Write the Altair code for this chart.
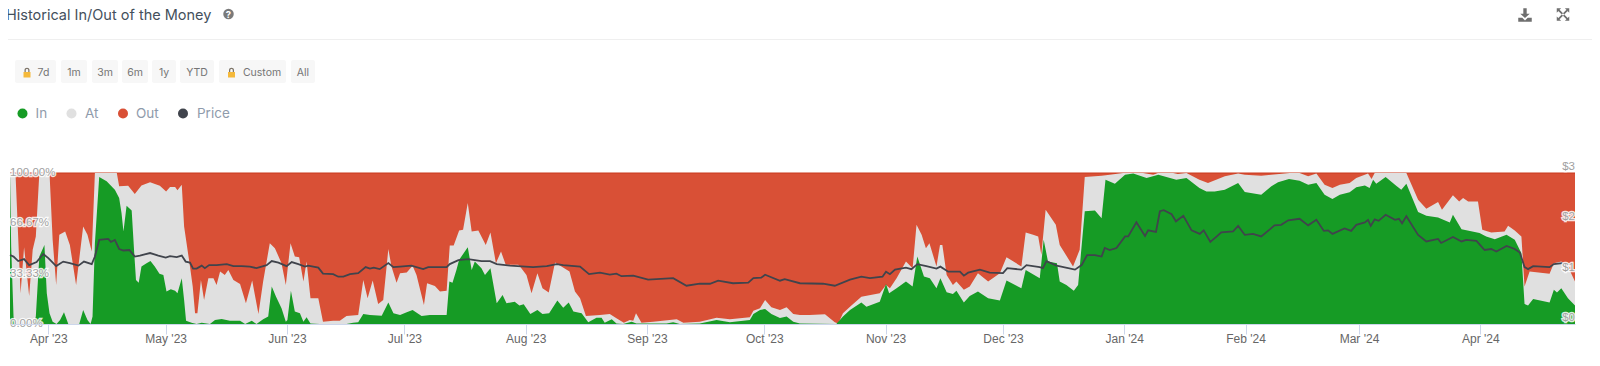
import altair as alt
import pandas as pd

START = pd.Timestamp("2023-03-22T05:00:00")
END = pd.Timestamp("2024-04-25T05:00:00")

in_days = [0,0.3,0.9,1.3,6,6.6,7.5,8.8,9.4,10.1,10.9,11.9,12.8,13.8,14.9,17.7,18.7,19.8,20.6,21.1,21.7,22.8,24.7,26.8,27.9,28.5,29,29.8,31.1,31.7,32.2,32.9,33.6,34.9,35.9,37,38.2,39.2,40,41.1,42.2,42.8,43.9,44.5,45,46.4,47.7,49,51.1,52.4,54.1,56.2,58.8,60.1,61.8,63,64.7,66,66.9,68,69.4,70.5,70.9,71.8,72.8,74.1,75,75.8,76.8,79.2,86,87.7,89,90.3,92,95,96.7,98,99.7,
 101.4,102.9,105.2,107.3,111.6,112.3,113.1,114.1,114.8,117,118,118.8,120.5,121.4,122.8,124.4,125.9,126.9,129,130.2,131.3,133,134.8,136.1,137.8,139.9,141.4,142.8,144,146.1,147.8,149.9,151.2,152,153.8,155,156.7,158.9,160.1,167.8,169.5,171.2,176.3,180.6,184,189.1,190,191.7,193,194.6,196.8,198.5,200.2,201.9,
 211.2,212.9,214.7,217.6,218.9,222.3,223.9,224.7,226.6,229,230.7,231.9,233.6,235.1,236.8,237.8,239.4,241,241.9,243.8,245.3,247.4,250,253,254.7,258.5,259.6,263.2,264.2,265.3,267.6,268.3,270,271.9,273,274.7,277.3,279,280,282.4,285,287.1,290.5,293.5,298.1,300.7,304,
 305.8,307.9,310.5,313.9,315.6,319.8,322.4,324.1,326.9,329.6,331.8,333.9,336,338,339.9,342.4,344.1,346.3,347.5,348.4,349.2,351.6,354.3,355.6,356.9,359.9,362,365,368,368.8,371,375.6,377.3,379.5,382.5,384.6,386.3,387.1,388,389.3,393.5,394.6,395.4,396.5,398.2,400]
in_pct = [100,51.3,4.9,0,0,4.9,44.7,52.4,20.4,7.1,1.5,0,2.7,7.7,0,0,9.3,2.7,0,4.9,53.5,97.3,94.5,88.9,83.4,73.5,61.3,78.3,75.2,49.1,29.2,27.4,38.1,40.3,41.8,38.1,33.2,32.5,21.5,23,22.1,20.4,30.3,15.9,2.2,0.9,0,0.9,0,2.7,3.3,2.2,2.2,0,2.2,0,3.1,4.9,24.8,18.1,10.4,1.5,2.7,22.1,8.2,7.1,1.5,4.4,0.4,0,0,0.9,1.1,6.6,6,5.5,14.2,7.1,6,
 7.7,9.3,5.3,6,6,28.1,27.4,35.8,42.5,50.9,35.8,41.4,36.9,32.5,36.9,13.7,19.2,13.7,14.8,12.2,13.1,6.6,9.3,6.6,7.1,15.5,10.8,14.2,8.2,7.1,1.1,4.2,4.2,0.9,3.1,0.4,0,1.5,0.4,0.4,1.1,0,0.4,2.7,1.1,2.7,6.6,9.3,10,6.6,4,4.9,1.5,0.4,
 0,4.9,9.3,14.2,11.5,14.8,26.5,20.4,23.7,28.1,24.8,44.7,31.4,30.3,23.7,30.3,21,19.9,22.1,14.2,18.6,21.5,17,15.5,28.8,23.7,35.8,30.3,55.8,41.4,40.3,28.1,25.9,22.1,25.9,74.6,75.2,70.1,95.6,92.9,98.9,99.6,96.7,98.9,95.6,96.7,90,
 87.8,87.8,88.9,93.4,87.4,85.6,91.2,93.8,96,94.9,92.3,93.4,85.6,82.7,85.6,87.2,90.5,91.8,90,95.6,92.9,97.3,91.6,88.9,92.9,74.1,71.7,70.6,67.3,72.3,62.8,60.2,58,56.2,59.1,55.8,46.9,13.3,12.2,16.6,14.2,22.6,20.8,23.7,17,12.2]

top_days = [0,1.4,2.7,3.6,4.9,5.8,6.6,7.5,10.1,10.9,11.8,12.6,14.1,15.3,16.9,18.7,19.8,20.9,21.7,27.3,27.9,30.2,31.9,33.6,35.8,38.3,39.9,40.9,42.2,42.8,43.9,44.5,46,46.7,47.3,47.9,48.8,49.6,50.7,52,52.8,53.7,54.9,55.8,57.1,58.8,60.3,61.9,63.5,64.7,66.4,67.7,69.4,70.5,71.7,72.8,73.9,75,75.8,76.8,78.8,80,82.6,84.3,86,89,90.3,91.4,92.7,94.1,95.4,96.7,97.5,98.8,99.7,
 101.4,102.9,103.9,105.8,106.6,108.6,109.9,111.6,112.4,113.4,114.8,115.8,117,118,119.7,121.6,122.8,124.2,125.5,126.7,129.9,130.5,132,133.3,134.8,136.1,137.7,139.3,143,144.4,145.7,147.2,150.8,153.3,155,156.9,158.4,159.3,160,161.4,164.4,170.4,172.1,176.3,180.6,184,189.1,190,191.7,193,194.6,196.8,198.5,200.2,201.9,
 204.4,208.3,210.8,211.7,212.9,214.7,217.6,222.3,223.9,224.9,226.6,229,230.7,231.7,233,234.1,235,236.8,237.7,238.3,239.4,241,241.9,243.8,245.3,247.4,250,253,254.7,258.5,259.6,261.5,262.8,263.6,264.7,267.3,268.3,271.7,273.4,274.7,279,281.1,284.5,289.6,292.2,293.4,297.3,298.5,300.7,304,
 306.2,310.5,313.9,315.6,319.8,322.4,327.1,329.6,331.8,333.9,336,338,339.9,342.4,344.1,347.1,348,348.8,356.9,359.9,362,365,366,368.8,370.4,371.4,372.7,375.2,376.3,378.6,382,382.9,384.6,386.3,387.1,388.4,393.5,394.6,396.5,398.2,400]
top_pct = [100,100,20.4,50.9,18.6,49.1,58,100,100,55.8,25.9,59.1,61.3,52.4,25.9,64.6,59.1,48,100,100,91.2,91.6,86.1,91.8,93.8,91.6,87.8,90.7,90.7,88.5,92.3,64.6,38.1,24.8,7.1,7.1,29.2,15.9,30.3,30.3,25.9,34.7,32.5,35.8,29.2,26.5,13.7,28.8,6.6,28.1,53.5,50.2,40.3,25.9,53.5,44.7,44.2,28.1,41.4,17,17,1.5,2.2,2.2,5.3,6,29.2,17,28.8,13.3,15.9,49.6,38.1,27.4,33.6,
 34.1,38.5,32.5,12.6,27,25.2,21.5,22.1,52,52,61.9,62.4,80.1,61.3,61.9,52.4,60.6,40.3,48,39.2,39.2,37.6,32.5,20.4,33.6,23.7,20.8,40.7,34.7,21.5,17,5.3,6,6.6,3.8,0.9,2.7,2.2,7.1,0.9,1.5,3.1,0.9,1.5,4.2,3.1,4.4,8.8,10.4,15.9,11.1,9.3,11.1,6.6,6,
 6,6.4,1.1,0.4,7.1,11.5,18.1,20.4,25.9,23.7,30.3,41.4,36.9,65.7,59.1,50.2,53.5,38.1,52.4,52.4,32.5,25.9,28.1,22.6,24.8,33.6,28.1,33.6,44.2,38.1,60.6,59.1,58,45.8,75.7,65.7,52.4,38.1,49.1,97.3,98.2,98.9,100,100,98.9,100,100,99.3,100,95.6,
 93.4,97.8,99.6,98.9,98.2,98.9,100,100,97.8,99.6,92.3,90,92.3,93.4,96.7,99.6,96,100,100,82.3,76.3,80.8,75.7,85.2,81.2,83.4,81.2,81.2,62.4,60.6,61.3,65,61.9,58,24.8,34.7,33.2,40.3,41.4,38.1,28.1]

price_days = [0,0.9,2.1,3.6,4.9,6.8,8.5,9.8,11.8,13.6,15.3,17.5,18.9,20.9,21.7,22.8,25.1,25.8,26.8,27.9,29,30.5,31.9,33.2,35.8,37.9,39.8,40.9,42.6,43.9,44.9,46,46.8,47.7,49,49.8,50.9,52.8,55.4,57.1,59.2,61.3,63,65.6,66.9,68.6,70.7,72,73.7,75.4,76.2,78.8,80,82.6,83.9,85.2,86.9,89,90.9,92,93,94.5,96.7,98,99.7,
 102.6,105.6,106.9,111.6,112.4,114.6,117.1,118.8,120.5,122.7,124.4,127.8,133.7,137.2,139.7,141.4,145.7,148,150.8,153.3,155,156.3,159.3,163.1,169.5,172.9,176.3,178.9,181,184.8,188.7,190,192,193,196.8,198,201.9,
 207.8,210.8,214.7,217.6,219.8,223,223.9,224.9,226.2,229,230.4,231.9,234.2,236.8,237.8,239.8,242.8,243.8,244.9,247.9,250.4,253.8,254.9,258.5,259.8,263.2,264,264.9,267.5,272.2,273.9,275.3,277.3,279,279.8,281.1,282.8,285,285.8,287.9,290.1,290.9,292.9,293.9,294.9,296.9,298,299.9,302,304.1,
 305.1,306.8,308.3,309.6,312.6,313.9,315.6,317.7,319.8,322,323.2,324.9,326.7,329.6,331.8,333.9,335.8,336.9,338,341.1,342.8,344.1,346.3,347.1,347.8,348.8,349.8,351.6,354,355,355.8,356.9,359.9,362,365,365.8,368.8,371,372.2,374.8,376.9,378.6,379.9,382.5,384.6,385.9,387.1,388,389.3,393.5,394.6,396.8]
price_usd = [1.37,1.34,1.25,1.29,1.17,1.23,1.39,1.31,1.15,1.24,1.21,1.16,1.24,1.19,1.34,1.67,1.69,1.63,1.67,1.49,1.46,1.47,1.34,1.36,1.41,1.36,1.32,1.35,1.33,1.36,1.24,1.22,1.10,1.10,1.16,1.11,1.17,1.17,1.19,1.15,1.15,1.14,1.11,1.17,1.25,1.22,1.15,1.23,1.19,1.14,1.16,1.12,1.00,0.99,0.94,0.94,0.99,1.01,1.13,1.10,1.12,1.09,1.21,1.13,1.14,
 1.16,1.09,1.13,1.13,1.19,1.27,1.29,1.27,1.25,1.25,1.19,1.16,1.13,1.15,1.19,1.17,1.14,0.99,1.02,0.98,1.00,0.95,0.96,0.88,0.91,0.76,0.80,0.80,0.86,0.81,0.82,0.91,0.92,0.98,0.86,0.89,0.81,
 0.80,0.76,0.88,0.94,0.91,0.94,1.04,0.99,1.08,1.12,1.09,1.19,1.15,1.10,1.14,1.04,1.04,0.96,1.02,1.08,1.02,1.01,1.11,1.08,1.17,1.13,1.11,1.25,1.16,1.08,1.17,1.37,1.37,1.34,1.51,1.47,1.51,1.74,1.74,2.02,1.75,1.86,1.83,2.24,2.26,2.18,2.04,2.15,1.86,1.79,
 1.86,1.63,1.73,1.82,1.84,1.95,1.77,1.79,1.74,1.88,1.96,1.97,2.06,2.09,1.96,2.07,1.85,1.86,1.79,1.90,1.85,1.97,2.02,2.07,1.95,2.08,2.05,2.17,2.07,2.09,2.00,2.14,1.77,1.64,1.69,1.61,1.73,1.64,1.67,1.65,1.47,1.49,1.44,1.55,1.49,1.42,1.13,1.09,1.15,1.13,1.19,1.21]

pct_ticks = [100, 66.67, 33.33, 0]
pct_labels = ["100.00%", "66.67%", "33.33%", "0.00%"]
usd_ticks = [3, 2, 1, 0]
usd_labels = ["$3", "$2", "$1", "$0"]

buttons = ["7d", "1m", "3m", "6m", "1y", "YTD", "Custom", "All"]
legend_names = ["In", "At", "Out", "Price"]
legend_colors = ["#169b25", "#e0e0e0", "#d95036", "#40444c"]

# page-pixel layout of the header furniture
PLOT_X, PLOT_Y, PLOT_W, PLOT_H = 10, 173, 1565, 151
button_boxes = [(15,56),(61,87),(92,118),(122,148),(152,176),(180,214),(219,286),(291,315)]
button_text_x = [43.5,74,105,135,164,197,262,303]
locks_x = [27, 231.5]
legend_dot_x = [22.5,71.5,123,183]
legend_text_x = [35.5,85,136,197]


def px(v):
    return alt.value(v - PLOT_X)


def py(v):
    return alt.value(v - PLOT_Y)


def frame(days, values):
    return pd.DataFrame({"date": [START + pd.Timedelta(days=float(d)) for d in days], "v": values})


x_scale = alt.Scale(domain=[START.isoformat(), END.isoformat()], nice=False)
pct_scale = alt.Scale(domain=[0, 100], nice=False, zero=False)
usd_scale = alt.Scale(domain=[0, 3], nice=False, zero=False)
X = alt.X("date:T", scale=x_scale, axis=None, title=None)

red = alt.Chart(frame([0, 400], [100, 100])).mark_area(
    color="#d95036", opacity=1, line={"color": "#c9391d", "strokeWidth": 1}
).encode(x=X, y=alt.Y("v:Q", scale=pct_scale, axis=None, stack=None))
gray = alt.Chart(frame(top_days, top_pct)).mark_area(color="#e0e0e0", opacity=1).encode(
    x=X, y=alt.Y("v:Q", scale=pct_scale, axis=None, stack=None))
green = alt.Chart(frame(in_days, in_pct)).mark_area(color="#169b25", opacity=1).encode(
    x=X, y=alt.Y("v:Q", scale=pct_scale, axis=None, stack=None))
price = alt.Chart(frame(price_days, price_usd)).mark_line(color="#40444c", strokeWidth=1.8).encode(
    x=X, y=alt.Y("v:Q", scale=usd_scale, axis=None))

axis_layer = alt.Chart(frame([0, 400], [0, 0])).mark_line(opacity=0).encode(
    x=alt.X("date:T", scale=x_scale, title=None, axis=alt.Axis(
        format="%b '%y", tickCount={"interval": "month", "step": 1}, grid=False,
        domainColor="#ccd6eb", tickColor="#ccd6eb", tickSize=10, labelColor="#666666",
        labelFont="Liberation Sans", labelFontSize=12, labelPadding=-1,
        labelOverlap=False, labelFlush=False, zindex=1)),
    y=alt.Y("v:Q", scale=pct_scale, axis=None))

pct_df = pd.DataFrame({"v": pct_ticks, "t": pct_labels})
usd_df = pd.DataFrame({"v": usd_ticks, "t": usd_labels})
tick_text = dict(font="Liberation Sans", fontSize=11.5, baseline="middle")
axis_text = []
for kw in (dict(stroke="#ffffff", strokeWidth=2.5, strokeOpacity=0.85, fill="#ffffff"), dict(fill="#a0a0a0")):
    axis_text.append(alt.Chart(pct_df).mark_text(align="left", **tick_text, **kw).encode(
        x=alt.value(0), y=alt.Y("v:Q", scale=pct_scale, axis=None), text="t:N"))
    axis_text.append(alt.Chart(usd_df).mark_text(align="right", dy=-6, **tick_text, **kw).encode(
        x=alt.value(PLOT_W), y=alt.Y("v:Q", scale=usd_scale, axis=None), text="t:N"))

one = pd.DataFrame({"a": [0]})
chrome = []


def label(text, x, y, size, color, font="Inter", align="left", weight=400):
    return alt.Chart(pd.DataFrame({"t": [text]})).mark_text(
        font=font, fontSize=size, color=color, align=align, baseline="middle", fontWeight=weight
    ).encode(x=px(x), y=py(y), text="t:N")


def glyph(path, x, y, w, color):
    return alt.Chart(one).mark_point(shape=path, filled=True, fill=color, stroke=None, opacity=1, size=w * w).encode(
        x=px(x), y=py(y))


chrome.append(label("Historical In/Out of the Money", 6, 15.5, 14.5, "#44505c"))
chrome.append(alt.Chart(one).mark_point(filled=True, fill="#7a7a7a", opacity=1, size=110, shape="circle", stroke=None).encode(x=px(228.5), y=py(14)))
chrome.append(label("?", 228.5, 14.5, 9.5, "#ffffff", align="center", weight=700))
chrome.append(alt.Chart(one).mark_rule(color="#efefef", strokeWidth=1).encode(x=px(0), x2=px(1592), y=py(39.5)))

for (x0, x1), t, tx in zip(button_boxes, buttons, button_text_x):
    chrome.append(alt.Chart(one).mark_rect(fill="#f7f7f7", cornerRadius=2).encode(x=px(x0), x2=px(x1), y=py(60), y2=py(83)))
    chrome.append(label(t, tx, 72.5, 10.5, "#757575", align="center"))
for lx in locks_x:
    chrome.append(glyph("M-0.7,-0.1H0.7V1H-0.7Z", lx, 72.5, 10, "#f5b93b"))
    chrome.append(glyph("M-0.5,-0.1V-0.5C-0.5,-1.1 0.5,-1.1 0.5,-0.5V-0.1H0.25V-0.5C0.25,-0.8 -0.25,-0.8 -0.25,-0.5V-0.1Z", lx, 72.5, 10, "#7d7468"))

for name, color, dx, tx in zip(legend_names, legend_colors, legend_dot_x, legend_text_x):
    chrome.append(alt.Chart(one).mark_point(filled=True, fill=color, opacity=1, size=100, shape="circle", stroke=None).encode(x=px(dx), y=py(113.5)))
    chrome.append(label(name, tx, 113.5, 13.5, "#8f9bab"))

chrome.append(glyph("M-0.25,-1H0.25V-0.2H0.7L0,0.45L-0.7,-0.2H-0.25Z M-1,0.4H-0.4L0,0.8L0.4,0.4H1V1H-1Z", 1525, 15, 13.5, "#6f6f6f"))
chrome.append(glyph("M-1,-1H-0.3L-1,-0.3Z M1,-1V-0.3L0.3,-1Z M-1,1V0.3L-0.3,1Z M1,1H0.3L1,0.3Z M-0.75,-0.55L-0.55,-0.75L0.75,0.55L0.55,0.75Z M0.75,-0.55L0.55,-0.75L-0.75,0.55L-0.55,0.75Z", 1563, 14.5, 12.5, "#6f6f6f"))

chart = alt.layer(red, gray, green, axis_layer, price, *axis_text, *chrome).resolve_scale(y="independent").resolve_axis(x="independent").properties(
    width=PLOT_W, height=PLOT_H,
    padding={"left": 2, "top": 165, "right": 17, "bottom": 34},
    autosize=alt.AutoSizeParams(type="none"),
    background="#ffffff",
).configure_view(stroke=None)

chart.save("out.html", embed_options={"renderer": "svg", "actions": False})
